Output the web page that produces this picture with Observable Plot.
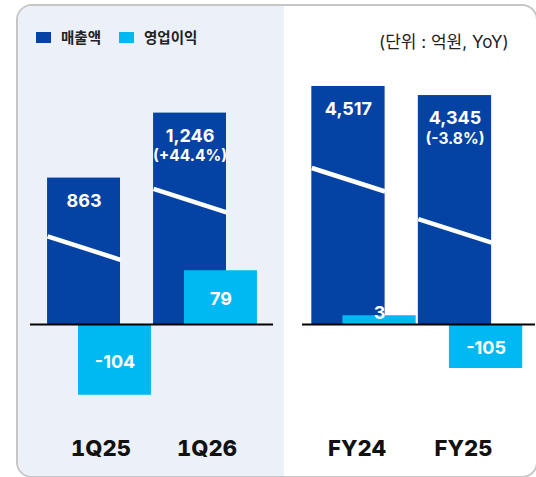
<!DOCTYPE html>
<html><head><meta charset="utf-8">
<script src="https://cdn.jsdelivr.net/npm/d3@7"></script>
<script src="https://cdn.jsdelivr.net/npm/@observablehq/plot@0.6"></script>
<style>
html,body{margin:0;padding:0;background:#fff;overflow:hidden;}
#wrap{position:relative;width:536px;height:477px;overflow:hidden;font-family:Inter,"Noto Sans CJK KR",sans-serif;}
#card{position:absolute;left:16px;top:4px;width:522px;height:474px;border:2px solid #c6c6c6;border-radius:16px;box-sizing:border-box;overflow:hidden;background:#fff;}
#leftbg{position:absolute;left:0;top:0;width:266px;height:100%;background:#ECF0F9;}
.layer{position:absolute;left:0;top:0;}
#legend{position:absolute;left:36px;top:27px;display:flex;align-items:center;font-family:"Noto Sans CJK KR",sans-serif;font-size:14.5px;font-weight:700;color:#222;line-height:20px;}
.sw{display:inline-block;width:15px;height:11px;margin-right:10px;}
#unit{position:absolute;left:379px;top:32px;font-family:Inter,"Noto Sans CJK KR",sans-serif;font-size:17px;color:#222;line-height:20px;white-space:nowrap;}
</style>
</head><body>
<div id="wrap">
  <div id="card"><div id="leftbg"></div></div>
  <div id="legend"></div>
  <div id="unit"></div>
</div>
<script>
// ---- data ----
const legendLabels = ["매출액", "영업이익"];
const unitLabel = "(단위 : 억원, YoY)";

const quarterCats = ["1Q25", "1Q26"];
const quarterRevenue = [863, 1246];
const quarterProfit = [-104, 79];
const quarterYoY = [null, 44.4];
const quarterBreaks = [520, 800];

const yearCats = ["FY24", "FY25"];
const yearRevenue = [4517, 4345];
const yearProfit = [3, -105];
const yearYoY = [null, -3.8];
const yearBreaks = [2970, 2000];

// ---- style ----
const REV = "#0442A3", PROF = "#00B9F2";
const W = 536, H = 477, MT = 60, MB = 57, ZERO_PX = 324;
const ABOVE = ZERO_PX - MT, BELOW = (H - MB) - ZERO_PX;
const BW = 0.688, OFF = 0.146;
const FONT = "Inter, 'Noto Sans CJK KR', sans-serif";
const fmt = v => v.toLocaleString("en-US");

const wrap = document.getElementById("wrap");
const legend = document.getElementById("legend");
legendLabels.forEach((t, i) => {
  const s = document.createElement("span");
  s.style.display = "inline-flex"; s.style.alignItems = "center";
  s.style.marginRight = "18px";
  s.innerHTML = `<span class="sw" style="background:${i ? PROF : REV}"></span>${t}`;
  legend.appendChild(s);
});
document.getElementById("unit").textContent = unitLabel;

function panel(cats, revenue, profit, yoy, breaks, frameX, xDom, revTop, profTop, labelDx) {
  const rev = cats.map((c, i) => ({i, c, v: revenue[i], yoy: yoy[i], brk: breaks[i]}));
  const prof = cats.map((c, i) => ({i, c, v: profit[i]}));
  const drop = 23.5 * revTop / ABOVE;
  const common = {
    width: W, height: H, marginTop: MT, marginBottom: MB,
    marginLeft: frameX[0], marginRight: W - frameX[1],
    style: {background: "transparent", overflow: "visible", fontFamily: FONT}
  };
  const revPlot = Plot.plot({
    ...common,
    x: {domain: xDom, axis: null},
    y: {domain: [-revTop * BELOW / ABOVE, revTop], axis: null},
    marks: [
      Plot.rectY(rev, {x1: d => d.i - OFF - BW / 2, x2: d => d.i - OFF + BW / 2, y1: 0, y2: "v", fill: REV}),
      Plot.link(rev, {x1: d => d.i - OFF - BW / 2, x2: d => d.i - OFF + BW / 2, y1: "brk", y2: d => d.brk - drop, stroke: "white", strokeWidth: 4.5}),
      Plot.text(rev, {x: d => d.i - OFF, y: "v", text: d => fmt(d.v), dy: 23, fill: "white", fontSize: 18, fontWeight: 700}),
      Plot.text(rev.filter(d => d.yoy != null), {x: d => d.i - OFF, y: "v", text: d => `(${d.yoy > 0 ? "+" : ""}${d.yoy}%)`, dy: 43, fill: "white", fontSize: 15.5, fontWeight: 700})
    ]
  });
  const small = d => Math.abs(d.v) < 10;
  const profPlot = Plot.plot({
    ...common,
    x: {domain: xDom},
    y: {domain: [-profTop * BELOW / ABOVE, profTop], axis: null},
    marks: [
      Plot.rectY(prof.filter(d => !small(d)), {x1: d => d.i + OFF - BW / 2, x2: d => d.i + OFF + BW / 2, y1: 0, y2: "v", fill: PROF}),
      Plot.rectY(prof.filter(small), {x1: d => d.i + OFF - BW / 2, x2: d => d.i + OFF + BW / 2, y1: 0, y2: "v", fill: PROF, insetTop: -7.5}),
      Plot.text(prof.filter(d => !small(d)), {x: d => d.i + OFF, y: d => d.v / 2, text: d => fmt(d.v), dy: 2, fill: "white", fontSize: 18, fontWeight: 700}),
      Plot.text(prof.filter(small), {x: d => d.i + OFF, y: "v", text: d => fmt(d.v), dy: -10, fill: "white", fontSize: 18, fontWeight: 700}),
      Plot.ruleY([0], {stroke: "#000", strokeWidth: 2}),
      Plot.axisX(cats.map((_, i) => i), {tickFormat: i => cats[i], tickSize: 0, tickPadding: 20, fontSize: 22, fontWeight: 800, fill: "#111", label: null, dx: labelDx})
    ]
  });
  [revPlot, profPlot].forEach(p => { p.classList.add("layer"); wrap.appendChild(p); });
}

panel(quarterCats, quarterRevenue, quarterProfit, quarterYoY, quarterBreaks,
      [30, 273], [-0.651, 1.6415], 1556, 388, 1.5);
panel(yearCats, yearRevenue, yearProfit, yearYoY, yearBreaks,
      [302, 535], [-0.5775, 1.610], 5010, 630, -7);
</script>
</body></html>
